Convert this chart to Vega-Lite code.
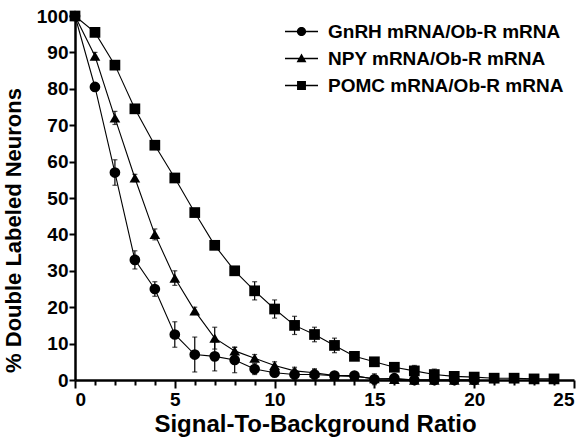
{
  "$schema": "https://vega.github.io/schema/vega-lite/v6.json",
  "width": 499,
  "height": 364,
  "autosize": {"type": "none"},
  "padding": {"left": 75, "top": 16, "right": 11, "bottom": 60},
  "config": {
    "view": {"stroke": null},
    "font": "Liberation Sans",
    "axis": {"labelFont": "Liberation Sans", "labelFontWeight": "bold", "labelFontSize": 19, "labelColor": "black", "titleFont": "Liberation Sans", "titleFontWeight": "bold", "titleFontSize": 22, "titleColor": "black", "domainColor": "black", "tickColor": "black", "grid": false}
  },
  "datasets": {
    "pts": [
      {"series": "GnRH mRNA/Ob-R mRNA", "x": 0, "y": 100, "err": 0},
      {"series": "GnRH mRNA/Ob-R mRNA", "x": 1, "y": 80.5, "err": 1},
      {"series": "GnRH mRNA/Ob-R mRNA", "x": 2, "y": 57, "err": 3.5},
      {"series": "GnRH mRNA/Ob-R mRNA", "x": 3, "y": 33, "err": 2.5},
      {"series": "GnRH mRNA/Ob-R mRNA", "x": 4, "y": 25, "err": 2},
      {"series": "GnRH mRNA/Ob-R mRNA", "x": 5, "y": 12.5, "err": 3.5},
      {"series": "GnRH mRNA/Ob-R mRNA", "x": 6, "y": 7, "err": 4.8},
      {"series": "GnRH mRNA/Ob-R mRNA", "x": 7, "y": 6.5, "err": 4},
      {"series": "GnRH mRNA/Ob-R mRNA", "x": 8, "y": 5.5, "err": 3.5},
      {"series": "GnRH mRNA/Ob-R mRNA", "x": 9, "y": 3, "err": 1.5},
      {"series": "GnRH mRNA/Ob-R mRNA", "x": 10, "y": 2, "err": 1},
      {"series": "GnRH mRNA/Ob-R mRNA", "x": 11, "y": 1.5, "err": 1.5},
      {"series": "GnRH mRNA/Ob-R mRNA", "x": 12, "y": 1.5, "err": 1.5},
      {"series": "GnRH mRNA/Ob-R mRNA", "x": 13, "y": 1.2, "err": 1},
      {"series": "GnRH mRNA/Ob-R mRNA", "x": 14, "y": 1.2, "err": 1},
      {"series": "GnRH mRNA/Ob-R mRNA", "x": 15, "y": 0.2, "err": 1.5},
      {"series": "GnRH mRNA/Ob-R mRNA", "x": 16, "y": 0.5, "err": 0.5},
      {"series": "GnRH mRNA/Ob-R mRNA", "x": 17, "y": 0, "err": 0},
      {"series": "GnRH mRNA/Ob-R mRNA", "x": 18, "y": 0, "err": 0},
      {"series": "GnRH mRNA/Ob-R mRNA", "x": 19, "y": 0, "err": 0},
      {"series": "GnRH mRNA/Ob-R mRNA", "x": 20, "y": 0, "err": 0},
      {"series": "NPY mRNA/Ob-R mRNA", "x": 0, "y": 100, "err": 0},
      {"series": "NPY mRNA/Ob-R mRNA", "x": 1, "y": 89, "err": 1},
      {"series": "NPY mRNA/Ob-R mRNA", "x": 2, "y": 72, "err": 1.8},
      {"series": "NPY mRNA/Ob-R mRNA", "x": 3, "y": 55.5, "err": 1},
      {"series": "NPY mRNA/Ob-R mRNA", "x": 4, "y": 40, "err": 1.5},
      {"series": "NPY mRNA/Ob-R mRNA", "x": 5, "y": 28, "err": 2},
      {"series": "NPY mRNA/Ob-R mRNA", "x": 6, "y": 19, "err": 1},
      {"series": "NPY mRNA/Ob-R mRNA", "x": 7, "y": 11.5, "err": 3},
      {"series": "NPY mRNA/Ob-R mRNA", "x": 8, "y": 8, "err": 1},
      {"series": "NPY mRNA/Ob-R mRNA", "x": 9, "y": 6, "err": 1},
      {"series": "NPY mRNA/Ob-R mRNA", "x": 10, "y": 4, "err": 1},
      {"series": "NPY mRNA/Ob-R mRNA", "x": 11, "y": 2.5, "err": 1},
      {"series": "NPY mRNA/Ob-R mRNA", "x": 12, "y": 2, "err": 1},
      {"series": "NPY mRNA/Ob-R mRNA", "x": 13, "y": 1.2, "err": 0.8},
      {"series": "NPY mRNA/Ob-R mRNA", "x": 14, "y": 1, "err": 0.8},
      {"series": "NPY mRNA/Ob-R mRNA", "x": 15, "y": 0.4, "err": 0.5},
      {"series": "NPY mRNA/Ob-R mRNA", "x": 16, "y": 0.2, "err": 0.3},
      {"series": "NPY mRNA/Ob-R mRNA", "x": 17, "y": 0, "err": 0},
      {"series": "NPY mRNA/Ob-R mRNA", "x": 18, "y": 0, "err": 0},
      {"series": "NPY mRNA/Ob-R mRNA", "x": 19, "y": 0, "err": 0},
      {"series": "NPY mRNA/Ob-R mRNA", "x": 20, "y": 0, "err": 0},
      {"series": "POMC mRNA/Ob-R mRNA", "x": 0, "y": 100, "err": 0},
      {"series": "POMC mRNA/Ob-R mRNA", "x": 1, "y": 95.5, "err": 0.5},
      {"series": "POMC mRNA/Ob-R mRNA", "x": 2, "y": 86.5, "err": 0.5},
      {"series": "POMC mRNA/Ob-R mRNA", "x": 3, "y": 74.5, "err": 0.5},
      {"series": "POMC mRNA/Ob-R mRNA", "x": 4, "y": 64.5, "err": 0.5},
      {"series": "POMC mRNA/Ob-R mRNA", "x": 5, "y": 55.5, "err": 0.5},
      {"series": "POMC mRNA/Ob-R mRNA", "x": 6, "y": 46, "err": 0.5},
      {"series": "POMC mRNA/Ob-R mRNA", "x": 7, "y": 37, "err": 0.8},
      {"series": "POMC mRNA/Ob-R mRNA", "x": 8, "y": 30, "err": 0.8},
      {"series": "POMC mRNA/Ob-R mRNA", "x": 9, "y": 24.5, "err": 2.5},
      {"series": "POMC mRNA/Ob-R mRNA", "x": 10, "y": 19.5, "err": 2.5},
      {"series": "POMC mRNA/Ob-R mRNA", "x": 11, "y": 15, "err": 2.5},
      {"series": "POMC mRNA/Ob-R mRNA", "x": 12, "y": 12.5, "err": 2},
      {"series": "POMC mRNA/Ob-R mRNA", "x": 13, "y": 9.5, "err": 2},
      {"series": "POMC mRNA/Ob-R mRNA", "x": 14, "y": 6.5, "err": 0.8},
      {"series": "POMC mRNA/Ob-R mRNA", "x": 15, "y": 5, "err": 0.8},
      {"series": "POMC mRNA/Ob-R mRNA", "x": 16, "y": 3.5, "err": 0.8},
      {"series": "POMC mRNA/Ob-R mRNA", "x": 17, "y": 2.5, "err": 1.5},
      {"series": "POMC mRNA/Ob-R mRNA", "x": 18, "y": 1.5, "err": 1.5},
      {"series": "POMC mRNA/Ob-R mRNA", "x": 19, "y": 1, "err": 1},
      {"series": "POMC mRNA/Ob-R mRNA", "x": 20, "y": 0.8, "err": 1},
      {"series": "POMC mRNA/Ob-R mRNA", "x": 21, "y": 0.5, "err": 0.5},
      {"series": "POMC mRNA/Ob-R mRNA", "x": 22, "y": 0.5, "err": 0.5},
      {"series": "POMC mRNA/Ob-R mRNA", "x": 23, "y": 0.3, "err": 0.3},
      {"series": "POMC mRNA/Ob-R mRNA", "x": 24, "y": 0.3, "err": 0.3}
    ]
  },
  "data": {"name": "pts"},
  "encoding": {
    "x": {"field": "x", "type": "quantitative", "scale": {"domain": [0, 25], "nice": false},
      "axis": {"title": "Signal-To-Background Ratio", "titleFontSize": 24, "titleX": 240, "values": [0,1,2,3,4,5,6,7,8,9,10,11,12,13,14,15,16,17,18,19,20,21,22,23,24,25],
        "labelExpr": "datum.value % 5 === 0 ? datum.label : ''",
        "tickSize": {"condition": {"test": "datum.value % 5 === 0", "value": 8}, "value": 5},
        "tickWidth": 2, "domainWidth": 2.5, "labelPadding": 2, "titlePadding": 3}},
    "y": {"field": "y", "type": "quantitative", "scale": {"domain": [0, 100], "nice": false},
      "axis": {"title": "% Double Labeled Neurons", "values": [0,10,20,30,40,50,60,70,80,90,100],
        "tickSize": 6, "tickWidth": 2, "domainWidth": 2.5, "labelPadding": 1,
        "titleX": -50, "titleY": 214, "titleBaseline": "bottom", "titleAnchor": "middle"}}
  },
  "resolve": {"scale": {"shape": "independent"}, "legend": {"shape": "independent"}},
  "layer": [
    {"mark": {"type": "errorbar", "ticks": true, "color": "black", "thickness": 1.2},
      "encoding": {"y": {"field": "y", "type": "quantitative"}, "yError": {"field": "err"}}},
    {"mark": {"type": "line", "color": "black", "strokeWidth": 1.1},
      "encoding": {"detail": {"field": "series"}}},
    {"mark": {"type": "point", "filled": true, "opacity": 1, "color": "black", "size": 115},
      "encoding": {
        "shape": {"field": "series", "type": "nominal",
          "scale": {"domain": ["GnRH mRNA/Ob-R mRNA", "NPY mRNA/Ob-R mRNA", "POMC mRNA/Ob-R mRNA"], "range": ["circle", "triangle-up", "square"]},
          "legend": null}
      }},
    {"transform": [{"filter": "false"}],
      "mark": {"type": "point", "filled": true, "opacity": 1, "color": "black"},
      "encoding": {
        "shape": {"field": "series", "type": "nominal",
          "scale": {"domain": ["GnRH mRNA/Ob-R mRNA", "NPY mRNA/Ob-R mRNA", "POMC mRNA/Ob-R mRNA"],
            "range": ["M-1,-0.04H1V0.04H-1ZM0.28,0A0.28,0.28,0,1,1,-0.28,0A0.28,0.28,0,1,1,0.28,0Z", "M-1,-0.04H1V0.04H-1ZM0,-0.3L0.3,0.22L-0.3,0.22Z", "M-1,-0.04H1V0.04H-1ZM-0.27,-0.27H0.27V0.27H-0.27Z"]},
          "legend": {"title": null, "orient": "none", "legendX": 210, "legendY": -1,
            "labelFont": "Liberation Sans", "labelFontWeight": "bold", "labelFontSize": 19, "labelColor": "black", "labelLimit": 400,
            "symbolSize": 1089, "symbolStrokeWidth": 0, "symbolFillColor": "black", "symbolOpacity": 1,
            "rowPadding": -8.5, "labelOffset": 10}}
      }}
  ]
}
